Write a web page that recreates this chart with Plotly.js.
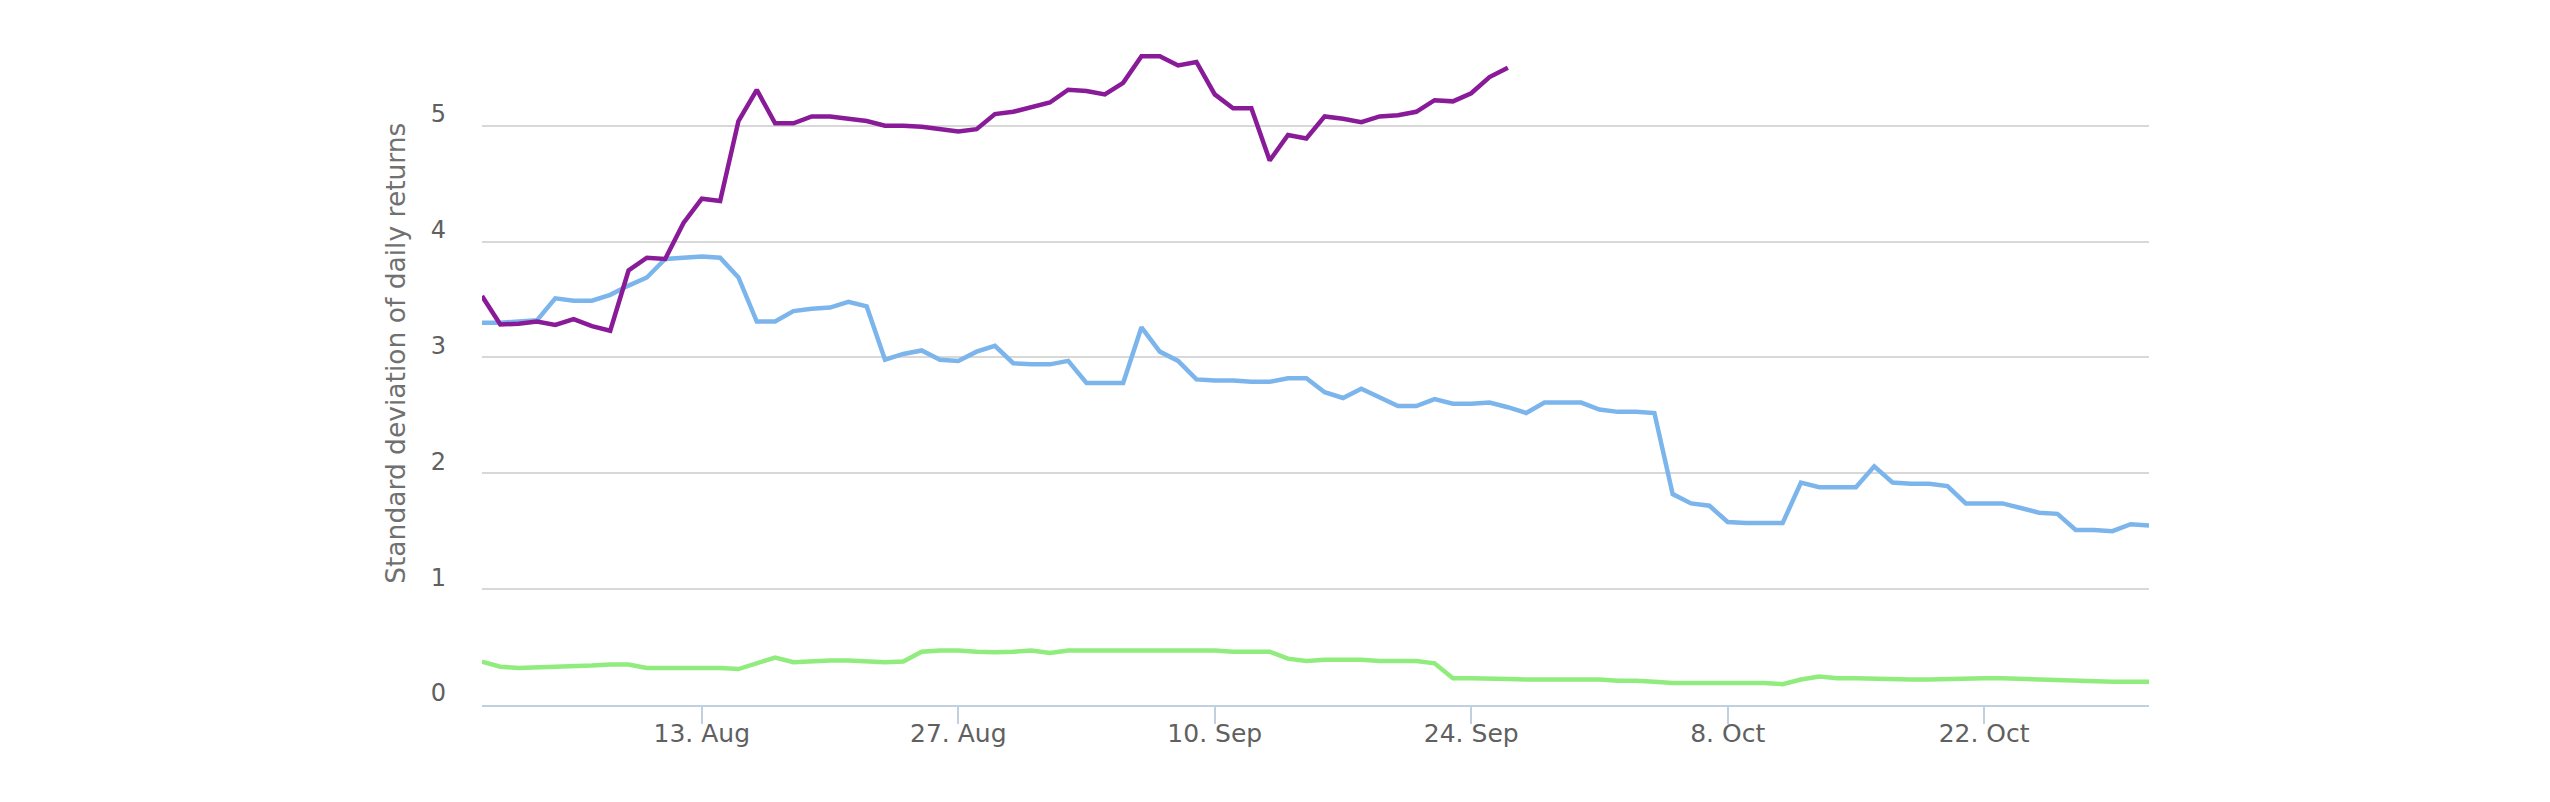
<!DOCTYPE html>
<html>
<head>
<meta charset="utf-8">
<script src="https://cdn.plot.ly/plotly-3.0.1.min.js"></script>
<style>
  html, body { margin: 0; padding: 0; background: #ffffff; }
  #chart { width: 2550px; height: 802px; }
</style>
</head>
<body>
<div id="chart"></div>
<script>
// Dates (daily, 1 Aug 2018 - 31 Oct 2018)
const dates = [
  "2018-08-01","2018-08-02","2018-08-03","2018-08-04","2018-08-05","2018-08-06","2018-08-07","2018-08-08","2018-08-09","2018-08-10",
  "2018-08-11","2018-08-12","2018-08-13","2018-08-14","2018-08-15","2018-08-16","2018-08-17","2018-08-18","2018-08-19","2018-08-20",
  "2018-08-21","2018-08-22","2018-08-23","2018-08-24","2018-08-25","2018-08-26","2018-08-27","2018-08-28","2018-08-29","2018-08-30",
  "2018-08-31","2018-09-01","2018-09-02","2018-09-03","2018-09-04","2018-09-05","2018-09-06","2018-09-07","2018-09-08","2018-09-09",
  "2018-09-10","2018-09-11","2018-09-12","2018-09-13","2018-09-14","2018-09-15","2018-09-16","2018-09-17","2018-09-18","2018-09-19",
  "2018-09-20","2018-09-21","2018-09-22","2018-09-23","2018-09-24","2018-09-25","2018-09-26","2018-09-27","2018-09-28","2018-09-29",
  "2018-09-30","2018-10-01","2018-10-02","2018-10-03","2018-10-04","2018-10-05","2018-10-06","2018-10-07","2018-10-08","2018-10-09",
  "2018-10-10","2018-10-11","2018-10-12","2018-10-13","2018-10-14","2018-10-15","2018-10-16","2018-10-17","2018-10-18","2018-10-19",
  "2018-10-20","2018-10-21","2018-10-22","2018-10-23","2018-10-24","2018-10-25","2018-10-26","2018-10-27","2018-10-28","2018-10-29",
  "2018-10-30","2018-10-31"
];

// Purple series (ends 26 Sep)
const purpleValues = [
  3.53, 3.285, 3.29, 3.31, 3.28, 3.33, 3.27, 3.23, 3.75, 3.86,
  3.85, 4.16, 4.37, 4.35, 5.04, 5.31, 5.02, 5.02, 5.08, 5.08,
  5.06, 5.04, 5.00, 5.00, 4.99, 4.97, 4.95, 4.97, 5.10, 5.12,
  5.16, 5.20, 5.31, 5.30, 5.27, 5.37, 5.60, 5.60, 5.52, 5.55,
  5.27, 5.15, 5.15, 4.70, 4.92, 4.89, 5.08, 5.06, 5.03, 5.08,
  5.09, 5.12, 5.22, 5.21, 5.28, 5.42, 5.50
];

// Blue series
const blueValues = [
  3.30, 3.30, 3.31, 3.32, 3.51, 3.49, 3.49, 3.54, 3.62, 3.69,
  3.85, 3.86, 3.87, 3.86, 3.69, 3.31, 3.31, 3.40, 3.42, 3.43,
  3.48, 3.44, 2.98, 3.03, 3.06, 2.98, 2.97, 3.05, 3.10, 2.95,
  2.94, 2.94, 2.97, 2.78, 2.78, 2.78, 3.26, 3.05, 2.97, 2.81,
  2.80, 2.80, 2.79, 2.79, 2.82, 2.82, 2.70, 2.65, 2.73, 2.66,
  2.58, 2.58, 2.64, 2.60, 2.60, 2.61, 2.57, 2.52, 2.61, 2.61,
  2.61, 2.55, 2.53, 2.53, 2.52, 1.82, 1.74, 1.72, 1.58, 1.57,
  1.57, 1.57, 1.92, 1.88, 1.88, 1.88, 2.06, 1.92, 1.91, 1.91,
  1.89, 1.74, 1.74, 1.74, 1.70, 1.66, 1.65, 1.51, 1.51, 1.50,
  1.56, 1.55
];

// Green series
const greenValues = [
  0.375, 0.33, 0.32, 0.325, 0.33, 0.33, 0.34, 0.35, 0.35, 0.32,
  0.32, 0.32, 0.32, 0.32, 0.31, 0.36, 0.41, 0.37, 0.38, 0.385,
  0.385, 0.375, 0.37, 0.375, 0.46, 0.47, 0.47, 0.46, 0.455, 0.46,
  0.47, 0.45, 0.47, 0.47, 0.47, 0.47, 0.47, 0.47, 0.47, 0.47,
  0.47, 0.46, 0.46, 0.46, 0.40, 0.38, 0.39, 0.39, 0.39, 0.38,
  0.38, 0.38, 0.36, 0.23, 0.23, 0.23, 0.225, 0.22, 0.22, 0.22,
  0.22, 0.22, 0.21, 0.21, 0.20, 0.19, 0.19, 0.19, 0.19, 0.19,
  0.19, 0.18, 0.22, 0.245, 0.23, 0.23, 0.225, 0.22, 0.22, 0.22,
  0.225, 0.225, 0.23, 0.23, 0.225, 0.22, 0.215, 0.21, 0.20, 0.20,
  0.20, 0.20
];

// Axis ticks
const xTickDates = ["2018-08-13", "2018-08-27", "2018-09-10", "2018-09-24", "2018-10-08", "2018-10-22"];
const xTickLabels = ["13. Aug", "27. Aug", "10. Sep", "24. Sep", "8. Oct", "22. Oct"];
const yTickValues = [0, 1, 2, 3, 4, 5];
const yTickLabels = ["0", "1", "2", "3", "4", "5"];
const yAxisTitle = "Standard deviation of daily returns";

const lineStyle = (color) => ({ color: color, width: 4.5, shape: "linear" });

const traces = [
  { type: "scatter", mode: "lines", x: dates, y: greenValues, line: lineStyle("#90ed7d"), hoverinfo: "x+y" },
  { type: "scatter", mode: "lines", x: dates, y: blueValues, line: lineStyle("#7cb5ec"), hoverinfo: "x+y" },
  { type: "scatter", mode: "lines", x: dates.slice(0, purpleValues.length), y: purpleValues, line: lineStyle("#891b99"), hoverinfo: "x+y" }
];

const fontFamily = "DejaVu Sans, Liberation Sans, sans-serif";

const layout = {
  width: 2550,
  height: 802,
  paper_bgcolor: "#ffffff",
  plot_bgcolor: "#ffffff",
  showlegend: false,
  margin: { l: 482, r: 401, t: 33, b: 97, pad: 0 },
  font: { family: fontFamily, color: "#606060", size: 24 },
  xaxis: {
    type: "date",
    range: ["2018-08-01", "2018-10-31"],
    tickmode: "array",
    tickvals: xTickDates,
    ticktext: xTickLabels,
    ticks: "outside",
    ticklen: 17,
    tickwidth: 2,
    tickcolor: "#C0D0E0",
    showline: true,
    linecolor: "#C0D0E0",
    linewidth: 2,
    showgrid: false,
    zeroline: false,
    ticklabelstandoff: -12,
    tickfont: { family: fontFamily, size: 25, color: "#606060" }
  },
  yaxis: {
    range: [0, 5.8],
    tickmode: "array",
    tickvals: yTickValues,
    ticktext: yTickLabels,
    ticks: "",
    showline: false,
    showgrid: true,
    gridcolor: "#D8D8D8",
    gridwidth: 2,
    zeroline: false,
    ticklabelstandoff: 35,
    ticklabelshift: -12,
    tickfont: { family: fontFamily, size: 24, color: "#606060" }
  },
  annotations: [
    {
      text: yAxisTitle,
      textangle: -90,
      xref: "paper",
      yref: "paper",
      x: -0.052,
      y: 0.523,
      xanchor: "center",
      yanchor: "middle",
      showarrow: false,
      font: { family: fontFamily, size: 26.5, color: "#707070" }
    }
  ]
};

Plotly.newPlot("chart", traces, layout, { displayModeBar: false, staticPlot: true });
</script>
</body>
</html>
